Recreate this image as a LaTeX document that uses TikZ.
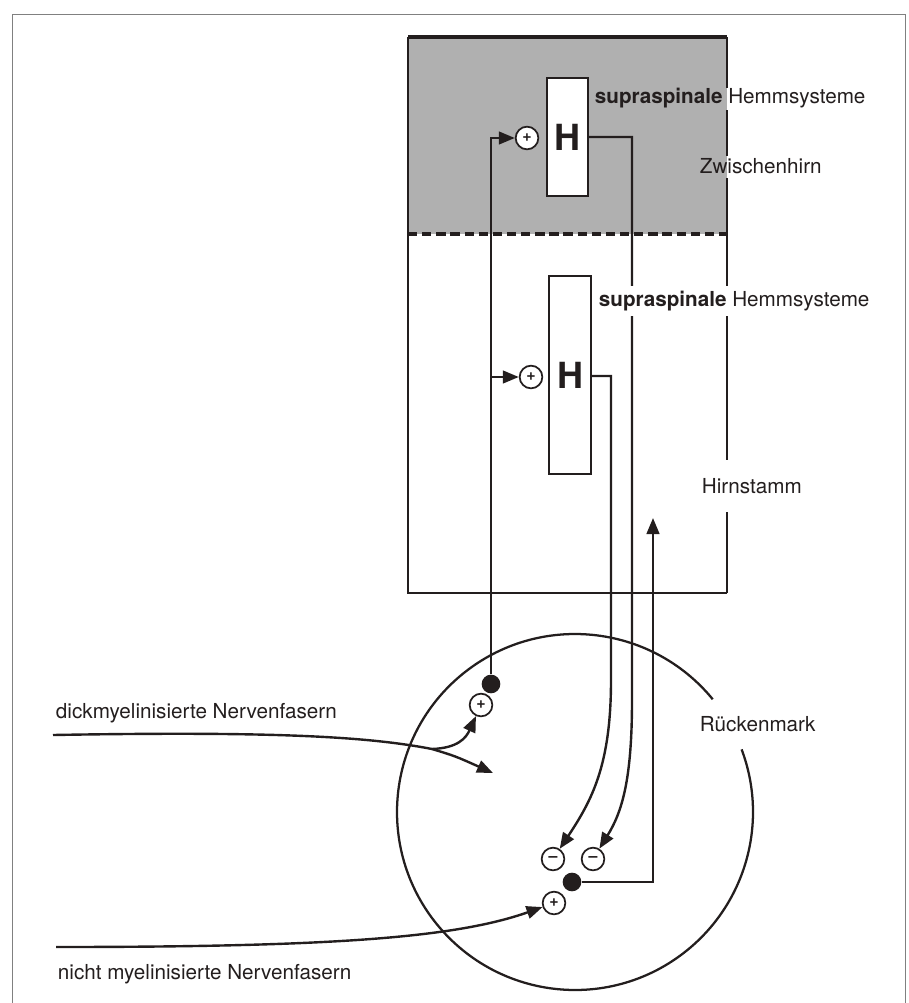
\documentclass[tikz,border=0pt]{standalone}
\usepackage{fontspec}
\setmainfont{TeX Gyre Heros}
\usetikzlibrary{arrows.meta}
\definecolor{ink}{RGB}{35,30,30}
\definecolor{greyfill}{RGB}{176,176,176}
\tikzset{
  arr/.style={draw=ink, line width=1.8pt, -{Triangle[length=12pt,width=9.5pt]}},
  conn/.style={draw=ink, line width=1.8pt},
  boxline/.style={draw=ink, line width=1.9pt},
  lbl/.style={anchor=west, inner sep=2pt, text=ink, font=\fontsize{15.5}{18}\selectfont},
  sign/.style={circle, draw=ink, line width=1.3pt, fill=white, minimum size=17pt, inner sep=0pt, text=ink, font=\fontsize{12}{12}\selectfont\bfseries},
  blob/.style={circle, fill=ink, minimum size=14pt, inner sep=0pt},
  hbox/.style={draw=ink, line width=1.5pt, fill=white, inner sep=0pt, text=ink, font=\fontsize{27}{27}\selectfont\bfseries},
}
\begin{document}
\begin{tikzpicture}[x=0.75pt,y=-0.75pt]
\useasboundingbox (0,0) rectangle (909,1003);
% outer frame
\draw[gray, line width=0.7pt] (12,1003) -- (12,14) -- (905,14) -- (905,1003);
% brain box
\fill[greyfill] (408,37) rectangle (727,234);
\coordinate (boxNW) at (408,37);
\coordinate (boxNE) at (727,37);
\coordinate (boxSW) at (408,593);
\coordinate (boxSE) at (727,593);
\draw[boxline] (boxSE) -- (boxSW) -- (boxNW);
\draw[draw=ink, line width=2.5pt] (boxNW) -- (boxNE);
\draw[boxline] (boxNE) -- (727,88);
\draw[boxline] (727,110) -- (727,156);
\draw[boxline] (727,178) -- (727,460);
\draw[boxline] (727,512) -- (boxSE);
\draw[draw=ink, line width=3.2pt, dash pattern=on 7pt off 3.6pt] (408,234) -- (727,234);
% H boxes
\node[hbox, minimum width=30.75pt, minimum height=88.5pt] (HU) at (567.5,137) {H};
\node[hbox, minimum width=31.5pt, minimum height=148.5pt] (HL) at (570,375) {H};
% signs and dots
\node[sign] (plusU) at (527,138) {+};
\node[sign] (plusM) at (531,377) {+};
\node[sign] (plusA) at (481,705) {+};
\node[sign] (plusB) at (554,903) {+};
\node[sign] (minL) at (553,859) {–};
\node[sign] (minR) at (593,859) {–};
\node[blob] (dotA) at (491,684) {};
\node[blob] (dotB) at (572,882) {};
% spinal cord
\node[circle, minimum size=267pt, inner sep=0pt] (cord) at (575,812) {};
\draw[draw=ink, line width=1.7pt] ([shift={(39.3:133.5pt)}]cord.center) arc[start angle=39.3, end angle=380.6, radius=133.5pt];
% connectors
\draw[arr] (dotA) -- (dotA |- plusU) -- (plusU);
\draw[arr] (dotA |- plusM) -- (plusM);
\coordinate (uTurn) at (632,137);
\coordinate (uDown) at (632,700);
\draw[arr] (HU.east |- uTurn) -- (uTurn) -- (uDown) .. controls (632,780) and (622,812) .. (minR);
\coordinate (lTurn) at (611,376);
\coordinate (lDown) at (611,680);
\draw[arr] (HL.east |- lTurn) -- (lTurn) -- (lDown) .. controls (611,765) and (592,800) .. (minL);
\coordinate (upTip) at (653,518);
\draw[arr] (dotB) -- (dotB -| upTip) -- (upTip);
% thick myelinated fibres
\coordinate (dickS) at (53,735);
\coordinate (br) at (432,749);
\coordinate (dickE) at (493,773);
\draw[conn] (dickS) .. controls (280,731) and (370,737) .. (br);
\draw[arr] (br) .. controls (455,756) .. (dickE);
\draw[arr] (br) .. controls (458,748) and (466,738) .. (plusA);
% unmyelinated fibres
\coordinate (nS) at (56,947);
\draw[arr] (nS) .. controls (330,947) and (455,938) .. (plusB);
% labels
\node[lbl] (supU) at (592,98) {\textbf{supraspinale} Hemmsysteme};
\node[lbl] (zw) at (697,166) {Zwischenhirn};
\node[lbl, fill=white, inner ysep=4pt] (supL) at (596,301) {\textbf{supraspinale} Hemmsysteme};
\node[lbl] (hs) at (699,486) {Hirnstamm};
\node[lbl] (rm) at (697,724) {Rückenmark};
\node[lbl] (dick) at (53,713) {dickmyelinisierte Nervenfasern};
\node[lbl] (nicht) at (55,974) {nicht myelinisierte Nervenfasern};
\end{tikzpicture}
\end{document}
